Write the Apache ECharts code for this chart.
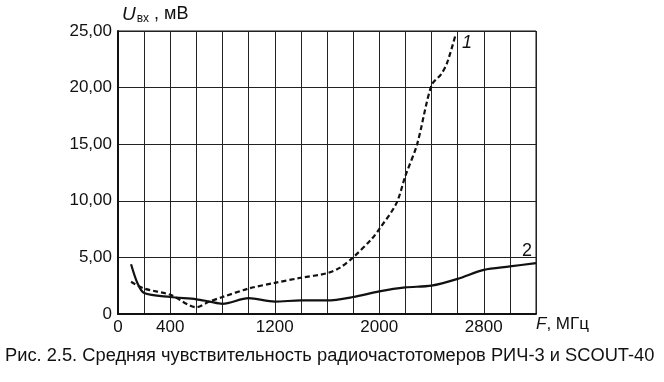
<!DOCTYPE html>
<html><head><meta charset="utf-8">
<script src="https://cdn.jsdelivr.net/npm/echarts@6/dist/echarts.min.js"></script>
<style>html,body{margin:0;padding:0;background:#fff}#c{width:664px;height:382px}</style>
</head><body><div id="c"></div>
<script>
const freq1 = [100,200,400,600,700,800,1000,1200,1400,1600,1700,1800,1940,2000,2130,2200,2290,2400,2475,2520,2585];
const volt1 = [2.85,2.25,1.7,0.6,1.1,1.5,2.25,2.75,3.2,3.6,4.1,5.0,6.6,7.5,9.75,12.2,15.0,20.2,21.2,22.2,24.7];
const freq2 = [100,150,200,400,600,700,800,1000,1200,1400,1600,1800,2000,2200,2400,2600,2800,3000,3200];
const volt2 = [4.4,2.7,1.85,1.5,1.3,1.1,0.9,1.4,1.1,1.2,1.2,1.5,2.0,2.35,2.5,3.1,3.9,4.2,4.5];
const xTickLabels = [0,400,1200,2000,2800];
const yTickLabels = {0:'0',5:'5,00',10:'10,00',15:'15,00',20:'20,00',25:'25,00'};
const caption = 'Рис. 2.5. Средняя чувствительность радиочастотомеров РИЧ-3 и SCOUT-40';

const font = 'Liberation Sans, Arial, sans-serif';
const chart = echarts.init(document.getElementById('c'));
chart.setOption({
  animation: false,
  backgroundColor: '#fff',
  grid: {left:118, right:128, top:31, bottom:68, show:true, borderColor:'#111', borderWidth:1},
  xAxis: {
    type:'value', min:0, max:3200, interval:200,
    axisLine:{show:true, lineStyle:{color:'#111', width:2}},
    axisTick:{show:false},
    splitLine:{show:true, lineStyle:{color:'#222', width:1}},
    axisLabel:{
      color:'#111', fontFamily:font, fontSize:17, margin:5,
      formatter: v => xTickLabels.includes(v) ? String(v) : ''
    }
  },
  yAxis: {
    type:'value', min:0, max:25, interval:5,
    axisLine:{show:true, lineStyle:{color:'#111', width:2}},
    axisTick:{show:false},
    splitLine:{show:true, lineStyle:{color:'#222', width:1}},
    axisLabel:{
      color:'#111', fontFamily:font, fontSize:17, margin:6,
      formatter: v => yTickLabels[v] !== undefined ? yTickLabels[v] : ''
    }
  },
  series: [
    {type:'line', data: freq1.map((f,i)=>[f,volt1[i]]), showSymbol:false, smooth:0.3,
     lineStyle:{color:'#111', width:2.2, type:[5,3]}},
    {type:'line', data: freq2.map((f,i)=>[f,volt2[i]]), showSymbol:false, smooth:0.3,
     lineStyle:{color:'#111', width:2.2}}
  ],
  graphic: [
    {type:'text', left:122, top:5, style:{
      text:'{u|U}{s|вх}{n| , мВ}',
      rich:{
        u:{fontFamily:font, fontSize:19, fontStyle:'italic', fill:'#111'},
        s:{fontFamily:font, fontSize:12, fill:'#111', padding:[8,0,0,1]},
        n:{fontFamily:font, fontSize:18, fill:'#111'}
      }}},
    {type:'text', left:536, top:316, style:{
      text:'{f|F}{n|, МГц}',
      rich:{
        f:{fontFamily:font, fontSize:17, fontStyle:'italic', fill:'#111'},
        n:{fontFamily:font, fontSize:17, fill:'#111'}
      }}},
    {type:'text', left:462, top:34, style:{text:'1', fontFamily:font, fontSize:18, fontStyle:'italic', fill:'#111'}},
    {type:'text', left:522, top:242, style:{text:'2', fontFamily:font, fontSize:18, fill:'#111'}},
    {type:'text', left:5, top:347, style:{text:caption, fontFamily:font, fontSize:18.3, fill:'#111'}}
  ]
});
</script></body></html>
